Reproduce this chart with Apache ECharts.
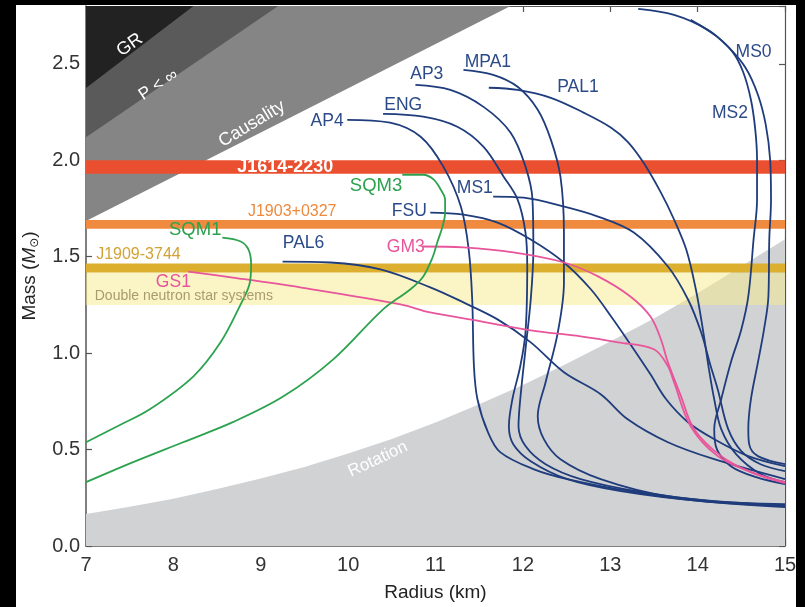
<!DOCTYPE html>
<html><head><meta charset="utf-8">
<script src="https://cdn.jsdelivr.net/npm/echarts@6/dist/echarts.min.js"></script>
<style>
html,body{margin:0;padding:0;background:#000;}
#wrap{position:relative;width:805px;height:607px;background:#000;overflow:hidden;}
#paper{position:absolute;left:16px;top:5px;width:780px;height:602px;background:#fff;}
#c{position:absolute;left:0;top:0;width:805px;height:607px;}
.blk{position:absolute;background:#000;}
</style>
</head><body>
<div id="wrap"><div id="paper"></div><div id="c"></div>
<div class="blk" style="left:796px;top:0;width:9px;height:607px"></div>
<div class="blk" style="left:0;top:0;width:805px;height:5px"></div>
<div class="blk" style="left:0;top:0;width:16px;height:607px"></div>
</div>
<script>
// ---- axis ranges / ticks ----
const radiusTicks = [7, 8, 9, 10, 11, 12, 13, 14, 15];
const massTicks = [0.0, 0.5, 1.0, 1.5, 2.0, 2.5];
const massMax = 2.8;

// ---- excluded regions (radius km, mass Msun) ----
const grRegion = [[7, 2.375], [8.23, 2.8], [7, 2.8]];
const pInfRegion = [[7, 2.12], [9.2, 2.8], [7, 2.8]];
const causalityRegion = [[7, 1.685], [11.86, 2.8], [7, 2.8]];
const rotationRegion = [[7, 0], [7, 0.166], [7.5, 0.204], [8, 0.245], [8.5, 0.295], [9, 0.35], [9.5, 0.41], [10, 0.48], [10.5, 0.555], [11, 0.64], [11.5, 0.735], [12, 0.835], [12.5, 0.945], [13, 1.06], [13.5, 1.18], [14, 1.31], [14.5, 1.45], [15, 1.59], [15, 0]];

// ---- pulsar mass bands ----
const bandNames = ['Double neutron star systems', 'J1909-3744', 'J1903+0327', 'J1614-2230'];
const bandLow = [1.25, 1.418, 1.645, 1.93];
const bandHigh = [1.418, 1.465, 1.69, 2.0];

// ---- mass-radius curves ----
const AP4 = [[9.99,2.210],[10.48,2.195],[10.83,2.122],[11.09,1.967],[11.29,1.760],[11.38,1.537],[11.42,1.278],[11.44,0.932],[11.48,0.761],[11.60,0.590],[11.74,0.487],[12.12,0.399],[12.51,0.347],[13.27,0.280],[14.04,0.233],[15.0,0.202]];
const ENG = [[10.40,2.241],[10.86,2.226],[11.25,2.174],[11.55,2.070],[11.78,1.915],[11.94,1.796],[12.03,1.625],[12.05,1.449],[12.03,1.108],[11.97,0.932],[11.88,0.761],[11.84,0.621],[11.89,0.528],[12.09,0.440],[12.51,0.347],[13.12,0.285],[14.04,0.233],[15.0,0.207]];
const AP3 = [[10.77,2.391],[11.17,2.365],[11.55,2.277],[11.86,2.143],[12.03,1.967],[12.11,1.796],[12.12,1.537],[12.09,1.278],[12.03,1.020],[11.97,0.761],[11.95,0.621],[12.03,0.518],[12.26,0.424],[12.66,0.347],[13.35,0.280],[14.15,0.233],[15.0,0.217]];
const MPA1 = [[11.32,2.469],[11.66,2.443],[11.94,2.381],[12.17,2.262],[12.32,2.107],[12.43,1.915],[12.47,1.625],[12.47,1.366],[12.40,1.108],[12.26,0.849],[12.17,0.673],[12.24,0.554],[12.43,0.450],[12.89,0.347],[13.66,0.259],[15.0,0.212]];
const PAL1 = [[11.61,2.376],[11.94,2.365],[12.32,2.324],[12.70,2.246],[13.01,2.169],[13.20,2.096],[13.38,1.988],[13.58,1.832],[13.73,1.693],[13.87,1.537],[13.98,1.330],[14.06,1.123],[14.13,0.916],[14.19,0.761],[14.27,0.606],[14.44,0.476],[14.72,0.373],[15.0,0.331]];
const MS0 = [[13.32,2.785],[13.73,2.754],[14.12,2.676],[14.35,2.588],[14.55,2.479],[14.69,2.340],[14.78,2.184],[14.83,2.003],[14.84,1.796],[14.82,1.589],[14.81,1.294],[14.76,1.123],[14.69,0.952],[14.61,0.761],[14.58,0.606],[14.59,0.528],[14.69,0.466],[15.0,0.424]];
const MS2 = [[13.92,2.728],[14.21,2.645],[14.40,2.562],[14.52,2.459],[14.61,2.314],[14.66,2.158],[14.68,2.003],[14.68,1.796],[14.64,1.589],[14.58,1.294],[14.50,1.123],[14.38,0.952],[14.27,0.761],[14.19,0.606],[14.22,0.502],[14.38,0.414],[14.67,0.357],[15.0,0.321]];
const MS1 = [[11.66,1.812],[12.01,1.806],[12.47,1.760],[12.86,1.708],[13.27,1.625],[13.66,1.449],[13.89,1.278],[14.04,1.108],[14.15,0.932],[14.23,0.813],[14.35,0.606],[14.50,0.492],[14.72,0.424],[15.0,0.388]];
const FSU = [[10.94,1.729],[11.32,1.718],[11.71,1.677],[12.09,1.589],[12.47,1.470],[12.78,1.330],[13.01,1.190],[13.23,1.046],[13.46,0.890],[13.64,0.761],[13.89,0.642],[14.19,0.554],[14.58,0.466],[15.0,0.414]];
const PAL6 = [[9.25,1.475],[9.80,1.470],[10.37,1.434],[10.94,1.341],[11.32,1.263],[11.71,1.175],[12.09,1.056],[12.47,0.901],[12.89,0.787],[13.20,0.657],[13.66,0.538],[14.19,0.450],[15.0,0.347]];
const GM3 = [[10.85,1.553],[11.32,1.548],[11.89,1.522],[12.47,1.470],[12.86,1.398],[13.23,1.294],[13.46,1.190],[13.58,1.071],[13.66,0.952],[13.81,0.776],[13.96,0.606],[14.27,0.466],[14.61,0.383],[15.0,0.326]];
const GS1 = [[8.17,1.423],[8.68,1.392],[9.45,1.341],[10.60,1.253],[10.94,1.211],[11.52,1.165],[12.09,1.118],[12.66,1.087],[13.09,1.056],[13.50,1.020],[13.66,0.932],[13.73,0.849],[13.92,0.621],[14.23,0.466],[14.61,0.383],[15.0,0.331]];
const SQM1 = [[8.56,1.599],[8.77,1.579],[8.86,1.537],[8.89,1.460],[8.87,1.356],[8.77,1.253],[8.54,1.056],[8.23,0.880],[7.73,0.709],[7.36,0.621],[7.0,0.538]];
const SQM3 = [[10.62,1.925],[10.86,1.925],[10.98,1.900],[11.06,1.848],[11.11,1.796],[11.11,1.729],[11.08,1.656],[11.02,1.574],[10.97,1.501],[10.86,1.398],[10.71,1.330],[10.40,1.227],[9.83,0.968],[9.26,0.776],[8.68,0.642],[8.11,0.538],[7.54,0.435],[7.0,0.331]];

// ---- text labels ----
const labelTexts = ['GR', 'P < ∞', 'Causality', 'Rotation', 'J1614-2230', 'J1903+0327', 'J1909-3744', 'Double neutron star systems',
  'SQM1', 'SQM3', 'PAL6', 'GS1', 'FSU', 'GM3', 'AP4', 'ENG', 'AP3', 'MPA1', 'PAL1', 'MS1', 'MS0', 'MS2'];
const labelR = [7.50, 7.83, 8.90, 10.34, 9.28, 9.36, 7.60, 7.10, 8.25, 10.32, 9.49, 8.00, 10.70, 10.66, 9.76, 10.63, 10.90, 11.60, 12.63, 11.45, 14.64, 14.37];
const labelM = [2.598, 2.391, 2.189, 0.450, 1.967, 1.734, 1.511, 1.294, 1.641, 1.868, 1.568, 1.366, 1.734, 1.548, 2.205, 2.288, 2.448, 2.510, 2.381, 1.853, 2.562, 2.246];

// ---- styles ----
const NAVY = '#1f3c7c', PINK = '#e8559b', GREEN = '#2ca24f';
const NAVYT = '#2b4a88';
const FONT = '"Liberation Sans", Arial, Helvetica, sans-serif';
const deg = Math.PI / 180;
const labelStyle = [
  {fill:'#fff', size:18, rot:35}, {fill:'#fff', size:17, rot:33}, {fill:'#fff', size:18, rot:31}, {fill:'#fff', size:17, rot:25},
  {fill:'#fff', size:18, weight:'bold'}, {fill:'#ee8a3e', size:16}, {fill:'#d2a235', size:16}, {fill:'#a89c6c', size:14, align:'left'},
  {fill:GREEN, size:18.5}, {fill:GREEN, size:18.5}, {fill:NAVYT, size:17.5}, {fill:PINK, size:17.5}, {fill:NAVYT, size:17.5}, {fill:PINK, size:17.5},
  {fill:NAVYT, size:17.5}, {fill:NAVYT, size:17.5}, {fill:NAVYT, size:17.5}, {fill:NAVYT, size:17.5}, {fill:NAVYT, size:17.5}, {fill:NAVYT, size:17.5},
  {fill:NAVYT, size:17.5}, {fill:NAVYT, size:17.5}
];

function polySeries(poly, color, z) {
  return {
    type: 'custom', z: z, silent: true, data: [[poly[0][0], poly[0][1]]],
    renderItem: function (params, api) {
      return { type: 'polygon', shape: { points: poly.map(p => api.coord(p)) }, style: { fill: color } };
    }
  };
}

const series = [];
series.push(polySeries(rotationRegion, '#d1d2d4', 1));
series.push(polySeries(causalityRegion, '#858585', 1));
series.push(polySeries(pInfRegion, '#5a5a5a', 1));
series.push(polySeries(grRegion, '#222222', 1));
const bandColors = ['rgba(247,235,140,0.5)', '#dcb02e', '#f08a3e', '#ea502f'];
bandNames.forEach((n, i) => {
  series.push(polySeries([[7, bandLow[i]], [15, bandLow[i]], [15, bandHigh[i]], [7, bandHigh[i]]], bandColors[i], 2));
});

const curves = [
  ['AP4', AP4, NAVY], ['ENG', ENG, NAVY], ['AP3', AP3, NAVY], ['MPA1', MPA1, NAVY], ['PAL1', PAL1, NAVY],
  ['MS0', MS0, NAVY], ['MS2', MS2, NAVY], ['MS1', MS1, NAVY], ['FSU', FSU, NAVY], ['PAL6', PAL6, NAVY],
  ['GM3', GM3, PINK], ['GS1', GS1, PINK], ['SQM1', SQM1, GREEN], ['SQM3', SQM3, GREEN]
];
curves.forEach(c => {
  series.push({
    type: 'line', name: c[0], data: c[1], smooth: 0.35, showSymbol: false, symbol: 'none', z: 3,
    lineStyle: { color: c[2], width: 1.8 }, silent: true
  });
});

series.push({
  type: 'custom', z: 5, silent: true,
  data: labelR.map((r, i) => [r, labelM[i], i]),
  renderItem: function (params, api) {
    const i = api.value(2);
    const p = api.coord([api.value(0), api.value(1)]);
    const s = labelStyle[i];
    return {
      type: 'text', x: p[0], y: p[1], rotation: (s.rot || 0) * deg,
      style: {
        text: labelTexts[i], fill: s.fill, fontSize: s.size, fontFamily: FONT, fontWeight: s.weight || 'normal',
        align: s.align || 'center', verticalAlign: 'middle'
      }
    };
  }
});

const axisCol = '#555';
const option = {
  backgroundColor: 'transparent',
  animation: false,
  grid: { left: 86, right: 20, top: 6, bottom: 60 },
  xAxis: [
    { type: 'value', min: radiusTicks[0], max: radiusTicks[radiusTicks.length - 1], interval: 1, position: 'bottom',
      axisLine: { show: true, onZero: false, lineStyle: { color: axisCol, width: 1.5 } },
      axisTick: { show: true, inside: true, length: 6, lineStyle: { color: axisCol, width: 1.2 } },
      axisLabel: { fontSize: 20, color: '#333', margin: 9, fontFamily: FONT },
      splitLine: { show: false },
      name: 'Radius (km)', nameLocation: 'middle', nameGap: 37,
      nameTextStyle: { fontSize: 19, color: '#222', fontFamily: FONT } },
    { type: 'value', min: radiusTicks[0], max: radiusTicks[radiusTicks.length - 1], interval: 1, position: 'top',
      axisLine: { show: true, onZero: false, lineStyle: { color: axisCol, width: 1.2 } },
      axisTick: { show: true, inside: true, length: 6, lineStyle: { color: axisCol, width: 1.2 } },
      axisLabel: { show: false }, splitLine: { show: false } }
  ],
  yAxis: [
    { type: 'value', min: massTicks[0], max: massMax, interval: 0.5, position: 'left',
      axisLine: { show: true, onZero: false, lineStyle: { color: axisCol, width: 1.5 } },
      axisTick: { show: true, inside: true, length: 6, lineStyle: { color: axisCol, width: 1.2 } },
      axisLabel: { fontSize: 20, color: '#333', margin: 6, fontFamily: FONT, showMaxLabel: false,
        formatter: v => (massTicks.some(t => Math.abs(t - v) < 1e-6) ? v.toFixed(1) : '') },
      splitLine: { show: false },
      name: '{a|Mass (}{b|M}{c|⊙}{a|)}', nameLocation: 'middle', nameGap: 45,
      nameTextStyle: { color: '#222', fontFamily: FONT, rich: {
        a: { fontSize: 19, color: '#222', fontFamily: FONT },
        b: { fontSize: 19, color: '#222', fontFamily: FONT, fontStyle: 'italic' },
        c: { fontSize: 12, color: '#222', fontFamily: '"DejaVu Sans", sans-serif', padding: [10, 0, 0, 0] } } } },
    { type: 'value', min: massTicks[0], max: massMax, interval: 0.5, position: 'right',
      axisLine: { show: true, onZero: false, lineStyle: { color: axisCol, width: 1.2 } },
      axisTick: { show: true, inside: true, length: 6, lineStyle: { color: axisCol, width: 1.2 } },
      axisLabel: { show: false }, splitLine: { show: false } }
  ],
  series: series
};
const chart = echarts.init(document.getElementById('c'), null, { renderer: 'canvas' });
chart.setOption(option);
</script>
</body></html>
